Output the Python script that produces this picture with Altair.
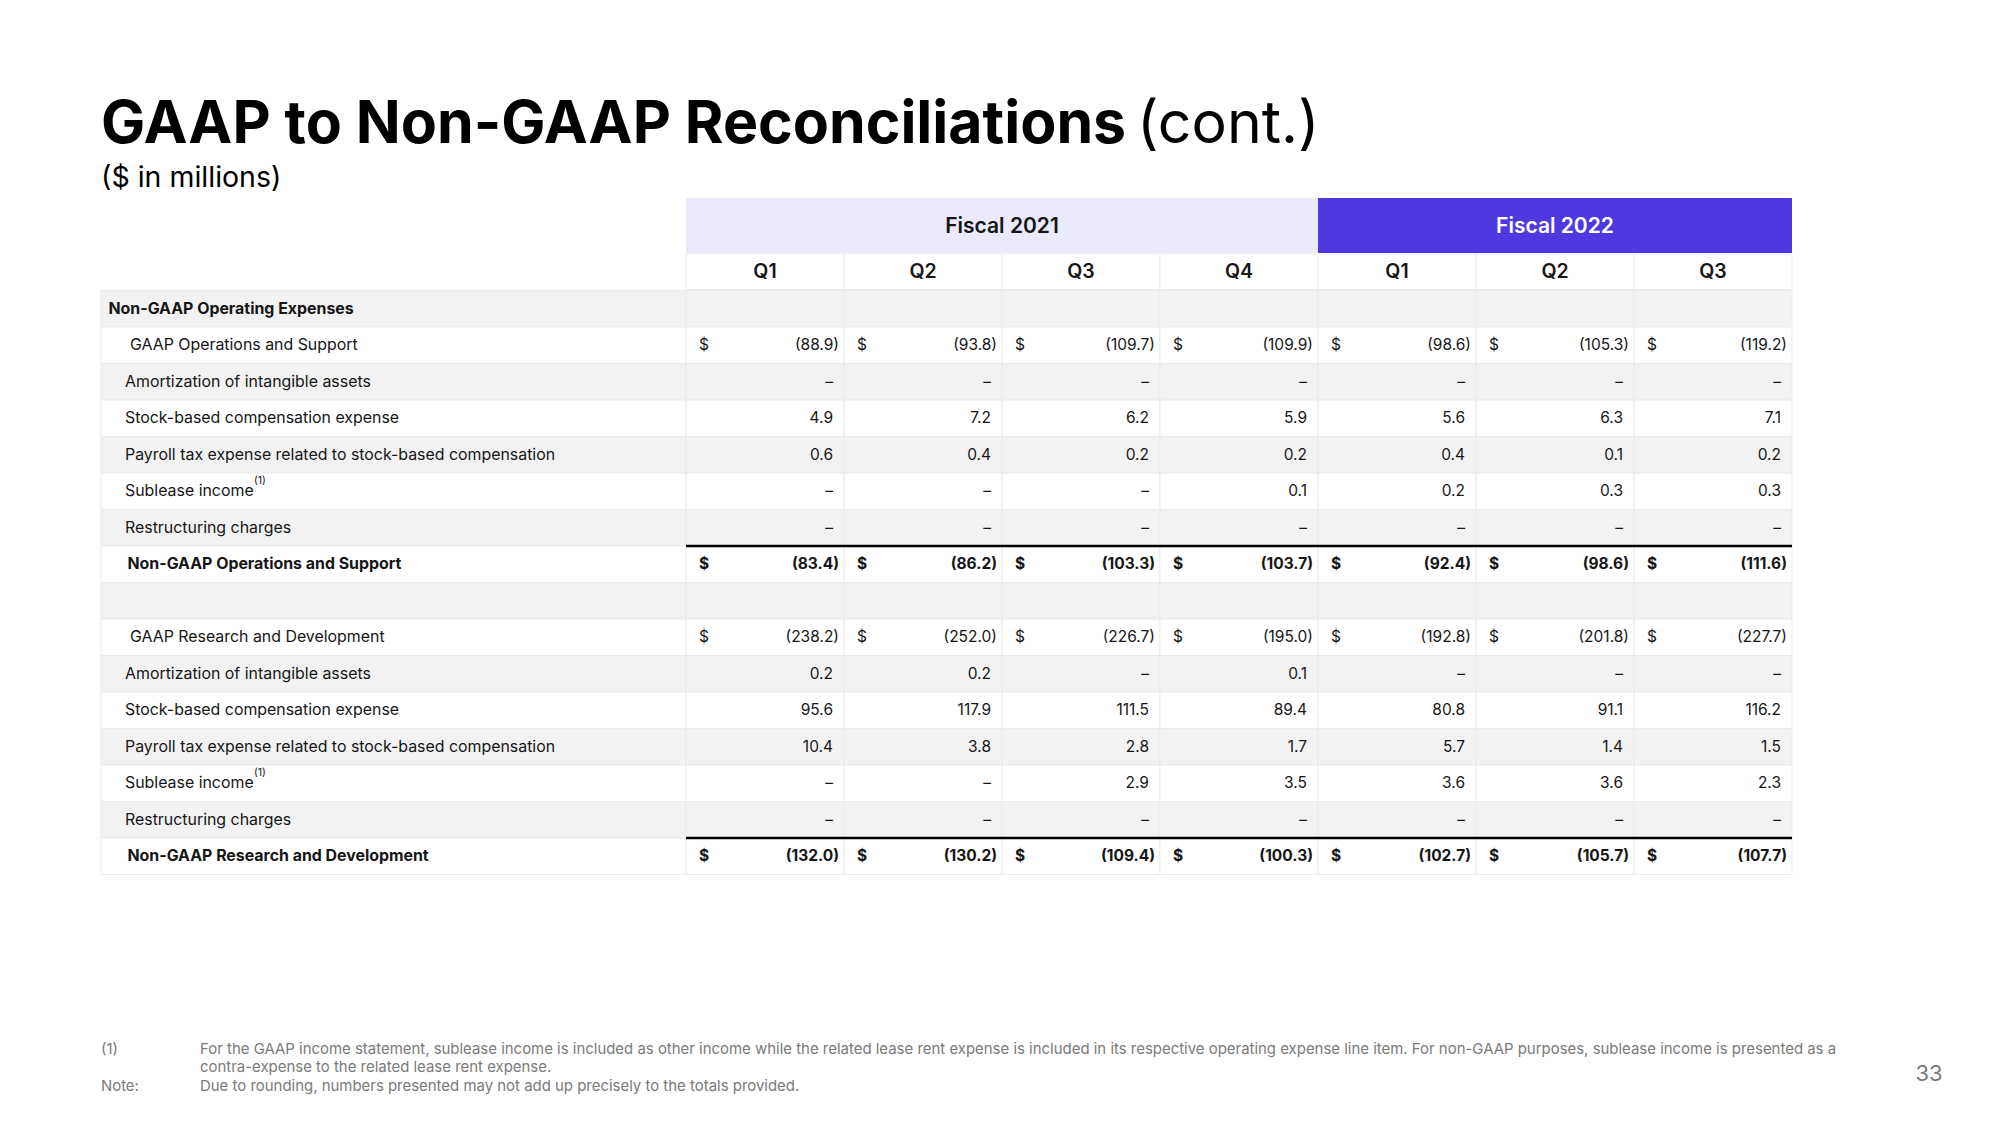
import altair as alt
import pandas as pd

# ---------------- data ----------------
title_bold = "GAAP to Non-GAAP Reconciliations"
title_light = "(cont.)"
subtitle = "($ in millions)"

fiscal_years = ["Fiscal 2021", "Fiscal 2022"]
fiscal_quarter_counts = [4, 3]
quarters = ["Q1", "Q2", "Q3", "Q4", "Q1", "Q2", "Q3"]

row_labels = [
    "Non-GAAP Operating Expenses",
    "GAAP Operations and Support",
    "Amortization of intangible assets",
    "Stock-based compensation expense",
    "Payroll tax expense related to stock-based compensation",
    "Sublease income",
    "Restructuring charges",
    "Non-GAAP Operations and Support",
    "",
    "GAAP Research and Development",
    "Amortization of intangible assets",
    "Stock-based compensation expense",
    "Payroll tax expense related to stock-based compensation",
    "Sublease income",
    "Restructuring charges",
    "Non-GAAP Research and Development",
]
row_kinds = ["section", "gaap", "item", "item", "item", "item", "item", "total",
             "blank", "gaap", "item", "item", "item", "item", "item", "total"]
footnoted_labels = ["Sublease income"]

gaap_ops = [-88.9, -93.8, -109.7, -109.9, -98.6, -105.3, -119.2]
ops_amortization = [None, None, None, None, None, None, None]
ops_sbc = [4.9, 7.2, 6.2, 5.9, 5.6, 6.3, 7.1]
ops_payroll = [0.6, 0.4, 0.2, 0.2, 0.4, 0.1, 0.2]
ops_sublease = [None, None, None, 0.1, 0.2, 0.3, 0.3]
ops_restructuring = [None, None, None, None, None, None, None]
non_gaap_ops = [-83.4, -86.2, -103.3, -103.7, -92.4, -98.6, -111.6]

gaap_rd = [-238.2, -252.0, -226.7, -195.0, -192.8, -201.8, -227.7]
rd_amortization = [0.2, 0.2, None, 0.1, None, None, None]
rd_sbc = [95.6, 117.9, 111.5, 89.4, 80.8, 91.1, 116.2]
rd_payroll = [10.4, 3.8, 2.8, 1.7, 5.7, 1.4, 1.5]
rd_sublease = [None, None, 2.9, 3.5, 3.6, 3.6, 2.3]
rd_restructuring = [None, None, None, None, None, None, None]
non_gaap_rd = [-132.0, -130.2, -109.4, -100.3, -102.7, -105.7, -107.7]

row_values = [None, gaap_ops, ops_amortization, ops_sbc, ops_payroll, ops_sublease,
              ops_restructuring, non_gaap_ops, None, gaap_rd, rd_amortization, rd_sbc,
              rd_payroll, rd_sublease, rd_restructuring, non_gaap_rd]

footnote_marks = ["(1)", "Note:"]
footnote_lines = [
    "For the GAAP income statement, sublease income is included as other income while the related lease rent expense is included in its respective operating expense line item. For non-GAAP purposes, sublease income is presented as a",
    "contra-expense to the related lease rent expense.",
    "Due to rounding, numbers presented may not add up precisely to the totals provided.",
]
page_number = "33"

# ---------------- layout (page pixels -> grid units) ----------------
PLOT_W, PLOT_H, MARGIN = 1984, 1100, 8
TABLE_LEFT, VALUES_LEFT, COL_W = 101, 686, 158
ROW_TOP, ROW_H = 290.5, 36.5
Q_TOP, Q_BOTTOM = 254, 289.5
F_TOP, F_BOTTOM = 198, 253


def xu(px):
    return (px - VALUES_LEFT) / COL_W


def yu(px):
    return (px - ROW_TOP) / ROW_H


X_SCALE = alt.Scale(domain=[xu(MARGIN), xu(MARGIN + PLOT_W)], nice=False, zero=False)
Y_SCALE = alt.Scale(domain=[yu(MARGIN), yu(MARGIN + PLOT_H)], nice=False, zero=False, reverse=True)
LAB_X = xu(TABLE_LEFT)
NCOL = len(quarters)

FONT = "Inter"
INK = "#161616"
GREY_TXT = "#7a7a7a"


def fmt(v):
    if v is None:
        return "–"
    if v < 0:
        return f"({abs(v):.1f})"
    return f"{v:.1f}"


# cells
cells = []
for r in range(len(row_labels)):
    stripe = "gray" if r % 2 == 0 else "white"
    cells.append(dict(x=LAB_X, x2=0, y=r, y2=r + 1, fill=stripe))
    for c in range(NCOL):
        cells.append(dict(x=c, x2=c + 1, y=r, y2=r + 1, fill=stripe))
for c in range(NCOL):
    cells.append(dict(x=c, x2=c + 1, y=yu(Q_TOP), y2=yu(Q_BOTTOM), fill="white"))
cells_df = pd.DataFrame(cells)

bands = []
start = 0
for fy, n in zip(fiscal_years, fiscal_quarter_counts):
    bands.append(dict(x=start, x2=start + n, y=yu(F_TOP), y2=yu(F_BOTTOM),
                      fill=fy, xm=start + n / 2, ym=(yu(F_TOP) + yu(F_BOTTOM)) / 2, label=fy))
    start += n
bands_df = pd.DataFrame(bands)

q_df = pd.DataFrame(dict(label=quarters, xm=[c + 0.5 for c in range(NCOL)],
                         ym=[(yu(Q_TOP) + yu(Q_BOTTOM)) / 2] * NCOL))

labels_df = pd.DataFrame(dict(label=row_labels, kind=row_kinds,
                              ym=[r + 0.5 for r in range(len(row_labels))],
                              x=[LAB_X] * len(row_labels)))
labels_df["foot"] = labels_df["label"].isin(footnoted_labels)

vals = []
for r, series in enumerate(row_values):
    if series is None:
        continue
    kind = row_kinds[r]
    for c, v in enumerate(series):
        vals.append(dict(row=r, col=c, kind=kind, ym=r + 0.5, xl=c, xr=c + 1,
                         text=fmt(v), paren=(v is not None and v < 0),
                         dollar=kind in ("gaap", "total")))
vals_df = pd.DataFrame(vals)

rules_df = pd.DataFrame(dict(x=[0] * 2, x2=[NCOL] * 2,
                             y=[r for r, k in enumerate(row_kinds) if k == "total"]))

fill_scale = alt.Scale(domain=["gray", "white", "Fiscal 2021", "Fiscal 2022"],
                       range=["#F2F2F2", "#FFFFFF", "#EAEAFC", "#5038E0"])


def X(f):
    return alt.X(f, type="quantitative", scale=X_SCALE, axis=None)


def Y(f):
    return alt.Y(f, type="quantitative", scale=Y_SCALE, axis=None)


layers = []

# table cells
layers.append(alt.Chart(cells_df).mark_rect(stroke="#EBEBEB", strokeWidth=1).encode(
    x=X("x"), x2="x2", y=Y("y"), y2="y2",
    color=alt.Color("fill:N", scale=fill_scale, legend=None)))
# fiscal bands
layers.append(alt.Chart(bands_df).mark_rect().encode(
    x=X("x"), x2="x2", y=Y("y"), y2="y2",
    color=alt.Color("fill:N", scale=fill_scale, legend=None)))
for fy, tc in zip(fiscal_years, [INK, "#FFFFFF"]):
    layers.append(alt.Chart(bands_df).transform_filter(alt.datum.label == fy).mark_text(
        font=FONT, fontSize=21, fontWeight=600, baseline="middle", color=tc, dy=1).encode(
        x=X("xm"), y=Y("ym"), text="label:N"))
# quarter headers
layers.append(alt.Chart(q_df).mark_text(font=FONT, fontSize=19.5, fontWeight=600, color=INK, baseline="middle").encode(
    x=X("xm"), y=Y("ym"), text="label:N"))
# total rules
layers.append(alt.Chart(rules_df).mark_rule(color="#000000", strokeWidth=2.5).encode(
    x=X("x"), x2="x2", y=Y("y")))

# row labels
label_style = {"section": (7.5, 700), "gaap": (29, 400), "item": (24, 400), "total": (26.5, 700)}
for kind, (dx, wt) in label_style.items():
    layers.append(alt.Chart(labels_df).transform_filter(alt.datum.kind == kind).mark_text(
        font=FONT, fontSize=15.9, fontWeight=wt, color=INK, align="left", baseline="middle", dx=dx).encode(
        x=X("x"), y=Y("ym"), text="label:N"))
# footnote superscript
layers.append(alt.Chart(labels_df).transform_filter(alt.datum.foot == True).mark_text(
    font=FONT, fontSize=10.5, color=INK, align="left", baseline="middle", dx=153, dy=-10).encode(
    x=X("x"), y=Y("ym"), text=alt.value("(1)")))

# values
for bold in (False, True):
    wt = 700 if bold else 400
    kf = (alt.datum.kind == "total") if bold else (alt.datum.kind != "total")
    layers.append(alt.Chart(vals_df).transform_filter(kf).transform_filter(alt.datum.dollar == True).mark_text(
        font=FONT, fontSize=15.5, fontWeight=wt, color=INK, align="left", baseline="middle", dx=13).encode(
        x=X("xl"), y=Y("ym"), text=alt.value("$")))
    for paren in (True, False):
        layers.append(alt.Chart(vals_df).transform_filter(kf).transform_filter(alt.datum.paren == paren).mark_text(
            font=FONT, fontSize=15.5, fontWeight=wt, color=INK, align="right", baseline="middle",
            dx=-5 if paren else -11).encode(
            x=X("xr"), y=Y("ym"), text="text:N"))

# title and notes
layers.append(alt.Chart(pd.DataFrame({"t": [title_bold]})).mark_text(
    font=FONT, fontSize=59, fontWeight=700, color="#000000", align="left", baseline="alphabetic").encode(
    x=alt.value(93), y=alt.value(135), text="t:N"))
layers.append(alt.Chart(pd.DataFrame({"t": [title_light]})).mark_text(
    font=FONT, fontSize=59, fontWeight=400, color="#000000", align="left", baseline="alphabetic").encode(
    x=alt.value(1129), y=alt.value(135), text="t:N"))
layers.append(alt.Chart(pd.DataFrame({"t": [subtitle]})).mark_text(
    font=FONT, fontSize=28.5, fontWeight=400, color="#000000", align="left", baseline="middle").encode(
    x=alt.value(93), y=alt.value(170), text="t:N"))

fm_df = pd.DataFrame({"t": footnote_marks, "y": [1041.5, 1078.5]})
layers.append(alt.Chart(fm_df).mark_text(font=FONT, fontSize=14.9, color=GREY_TXT, align="left", baseline="middle").encode(
    x=alt.value(93), y=alt.Y("y:Q", scale=None), text="t:N"))
fl_df = pd.DataFrame({"t": footnote_lines, "y": [1041.5, 1060, 1078.5]})
layers.append(alt.Chart(fl_df).mark_text(font=FONT, fontSize=14.95, color=GREY_TXT, align="left", baseline="middle").encode(
    x=alt.value(192), y=alt.Y("y:Q", scale=None), text="t:N"))
layers.append(alt.Chart(pd.DataFrame({"t": [page_number]})).mark_text(
    font=FONT, fontSize=22, color=GREY_TXT, align="center", baseline="middle").encode(
    x=alt.value(1921), y=alt.value(1066), text="t:N"))

chart = alt.layer(*layers).properties(
    width=PLOT_W, height=PLOT_H, background="#FFFFFF",
    autosize=alt.AutoSizeParams(type="none"), padding=0,
).configure_view(strokeWidth=0, stroke=None)

chart.save("out.html", embed_options={"renderer": "svg", "actions": False})
